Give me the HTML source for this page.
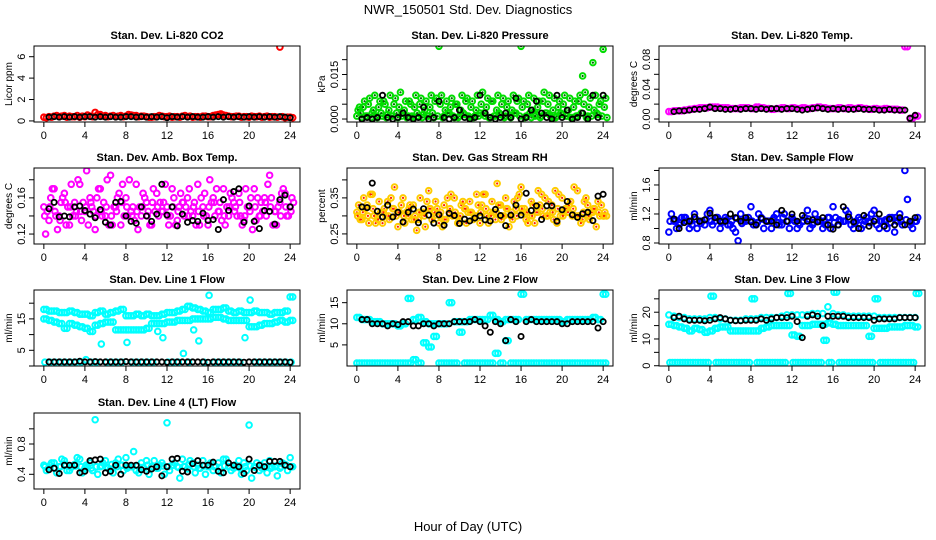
<!DOCTYPE html>
<html><head><meta charset="utf-8">
<style>
html,body{margin:0;padding:0;background:#fff;}
svg{display:block;font-family:"Liberation Sans",Arial,sans-serif;}
</style></head>
<body>
<svg id="chart" width="936" height="540" viewBox="0 0 936 540" xmlns="http://www.w3.org/2000/svg">
<rect width="936" height="540" fill="#fff"/>
<text x="468" y="14" font-size="13" text-anchor="middle">NWR_150501  Std. Dev. Diagnostics</text>
<text x="468" y="531" font-size="13" text-anchor="middle">Hour of Day (UTC)</text>
</svg>
<script>
const xTicks = [0,4,8,12,16,20,24];
const co2Red = [0.35,0.4,0.45,0.4,0.5,0.45,0.4,0.35,0.4,0.45,0.8,0.6,0.5,0.45,0.4,0.5,0.45,0.55,0.5,0.45,0.4,0.35,0.4,0.45,0.4,0.35,0.4,0.45,0.4,0.35,0.4,0.45,0.4,0.5,0.6,0.55,0.45,0.4,0.45,0.4,0.35,0.4,0.45,0.4,0.35,0.4,6.9,0.3,0.35];
const co2Red2 = [0.3,0.35,0.5,0.45,0.35,0.4,0.5,0.45,0.55,0.4,0.6,0.45,0.4,0.5,0.45,0.4,0.6,0.5,0.4,0.45,0.35,0.4,0.5,0.4,0.45,0.4,0.35,0.5,0.45,0.4,0.35,0.45,0.4,0.55,0.65,0.5,0.4,0.45,0.35,0.4,0.45,0.4,0.35,0.45,0.4,0.35,0.4,0.35,0.3];
const co2Black = [0.35,0.4,0.35,0.4,0.35,0.4,0.35,0.4,0.4,0.35,0.4,0.35,0.4,0.35,0.35,0.4,0.4,0.35,0.4,0.35,0.4,0.35,0.4,0.3,0.4,0.35,0.4,0.35,0.4,0.35,0.35,0.4,0.35,0.4,0.35,0.4,0.35,0.4,0.35,0.4,0.35,0.4,0.35,0.4,0.35,0.4,0.35,0.3];
const presLow = [0.001,0.0005,0.001,0.002,0.0005,0.001,0.0015,0.001,0.0005,0.002,0.001,0.0005,0.001,0.0015,0.001,0.0005,0.0245,0.001,0.002,0.0005,0.001,0.0015,0.0005,0.001,0.002,0.001,0.0005,0.001,0.0015,0.001,0.0005,0.002,0.0245,0.001,0.0005,0.0015,0.001,0.002,0.0005,0.001,0.0015,0.001,0.0005,0.001,0.0145,0.001,0.019,0.0015,0.0235];
const presHigh = [0.004,0.006,0.007,0.008,0.006,0.005,0.008,0.007,0.009,0.006,0.005,0.008,0.007,0.006,0.008,0.007,0.008,0.006,0.007,0.005,0.008,0.007,0.006,0.008,0.009,0.007,0.006,0.008,0.007,0.006,0.008,0.007,0.006,0.008,0.007,0.006,0.009,0.008,0.007,0.006,0.008,0.007,0.006,0.008,0.009,0.007,0.008,0.006,0.007];
const presMid = [0.003,0.004,0.005,0.003,0.004,0.006,0.003,0.005,0.004,0.003,0.006,0.004,0.005,0.003,0.004,0.006,0.005,0.003,0.004,0.005,0.003,0.006,0.004,0.003,0.005,0.004,0.006,0.003,0.005,0.004,0.003,0.006,0.004,0.005,0.003,0.004,0.006,0.005,0.003,0.004,0.005,0.003,0.004,0.006,0.005,0.004,0.003,0.005,0.004];
const presLow2 = [0.002,0.001,0.0005,0.001,0.002,0.0005,0.001,0.002,0.001,0.0005,0.001,0.002,0.0005,0.001,0.002,0.001,0.0005,0.002,0.001,0.0005,0.002,0.001,0.0005,0.001,0.002,0.0005,0.001,0.002,0.0005,0.001,0.002,0.001,0.0005,0.002,0.001,0.0005,0.002,0.001,0.0005,0.002,0.001,0.0005,0.001,0.002,0.0005,0.001,0.002,0.001,0.0005];
const presBlack = [0,0.0005,0,0.0005,0.008,0.0005,0,0.0005,0.002,0.0005,0,0.0005,0.004,0,0.0005,0.006,0.0005,0,0.0005,0.003,0.0005,0,0.0005,0.008,0.002,0.0005,0,0.0005,0.002,0.0005,0.007,0,0.0005,0.003,0.006,0.002,0.0005,0,0.008,0.0005,0.003,0,0.0005,0.002,0,0.008,0.0005,0.008];
const tempMag = [0.01,0.011,0.011,0.012,0.013,0.014,0.015,0.015,0.016,0.016,0.015,0.015,0.014,0.014,0.015,0.015,0.014,0.016,0.015,0.014,0.013,0.014,0.015,0.014,0.015,0.014,0.015,0.014,0.015,0.016,0.015,0.014,0.014,0.015,0.014,0.015,0.014,0.015,0.014,0.013,0.014,0.013,0.014,0.013,0.013,0.012,0.097,0.001,0.004];
const tempBlack = [0.01,0.011,0.011,0.012,0.013,0.013,0.014,0.016,0.014,0.014,0.013,0.013,0.014,0.013,0.014,0.014,0.013,0.014,0.013,0.014,0.014,0.013,0.014,0.014,0.013,0.012,0.013,0.014,0.015,0.014,0.013,0.014,0.013,0.014,0.013,0.013,0.014,0.013,0.013,0.013,0.012,0.012,0.013,0.012,0.012,0.012,0.001,0.005];
const ambA = [0.15,0.135,0.17,0.14,0.165,0.13,0.155,0.175,0.145,0.16,0.125,0.17,0.14,0.185,0.15,0.13,0.16,0.145,0.175,0.14,0.155,0.13,0.165,0.145,0.15,0.17,0.135,0.155,0.16,0.14,0.175,0.15,0.13,0.16,0.145,0.17,0.14,0.155,0.165,0.135,0.15,0.17,0.14,0.16,0.185,0.145,0.155,0.165,0.15];
const ambB = [0.12,0.16,0.14,0.155,0.13,0.175,0.145,0.135,0.19,0.15,0.16,0.14,0.18,0.13,0.16,0.175,0.14,0.15,0.125,0.165,0.145,0.17,0.14,0.155,0.13,0.16,0.15,0.14,0.17,0.155,0.13,0.165,0.18,0.14,0.155,0.13,0.165,0.15,0.14,0.17,0.16,0.135,0.155,0.14,0.16,0.13,0.165,0.14,0.16];
const ambC = [0.145,0.17,0.125,0.16,0.15,0.14,0.18,0.155,0.13,0.145,0.17,0.155,0.13,0.15,0.165,0.14,0.18,0.135,0.15,0.16,0.13,0.145,0.155,0.175,0.14,0.13,0.165,0.15,0.145,0.13,0.16,0.14,0.155,0.17,0.135,0.15,0.16,0.14,0.13,0.15,0.125,0.16,0.145,0.175,0.13,0.15,0.17,0.14,0.155];
const ambD = [0.14,0.15,0.145,0.135,0.155,0.15,0.14,0.145,0.15,0.155,0.14,0.145,0.15,0.14,0.145,0.155,0.15,0.14,0.145,0.15,0.14,0.155,0.15,0.145,0.14,0.15,0.145,0.155,0.14,0.15,0.145,0.14,0.15,0.155,0.145,0.14,0.15,0.145,0.155,0.14,0.145,0.15,0.14,0.155,0.15,0.145,0.14,0.15,0.145];
const ambBlack = [0.148,0.155,0.139,0.14,0.139,0.15,0.151,0.146,0.142,0.138,0.147,0.133,0.13,0.155,0.156,0.14,0.134,0.132,0.15,0.14,0.134,0.142,0.175,0.141,0.15,0.129,0.142,0.133,0.135,0.134,0.143,0.135,0.136,0.125,0.158,0.146,0.167,0.17,0.133,0.151,0.134,0.126,0.146,0.145,0.131,0.158,0.163,0.15];
const rhA = [0.31,0.29,0.33,0.36,0.3,0.28,0.34,0.32,0.27,0.35,0.3,0.33,0.29,0.31,0.37,0.3,0.28,0.33,0.31,0.35,0.29,0.32,0.34,0.3,0.28,0.36,0.31,0.29,0.33,0.35,0.3,0.32,0.38,0.29,0.34,0.31,0.36,0.3,0.33,0.28,0.35,0.32,0.3,0.37,0.29,0.33,0.31,0.34,0.3];
const rhB = [0.33,0.35,0.28,0.3,0.34,0.32,0.29,0.38,0.31,0.28,0.33,0.3,0.35,0.27,0.32,0.34,0.31,0.29,0.36,0.3,0.33,0.28,0.31,0.36,0.33,0.3,0.34,0.39,0.3,0.32,0.29,0.35,0.31,0.28,0.33,0.37,0.3,0.34,0.29,0.36,0.31,0.33,0.38,0.3,0.34,0.29,0.32,0.3,0.31];
const rhC = [0.29,0.32,0.36,0.28,0.31,0.3,0.35,0.3,0.33,0.31,0.29,0.26,0.31,0.34,0.29,0.32,0.27,0.35,0.3,0.28,0.34,0.31,0.29,0.33,0.36,0.28,0.31,0.33,0.3,0.27,0.34,0.36,0.32,0.3,0.28,0.33,0.35,0.31,0.37,0.3,0.32,0.34,0.3,0.28,0.35,0.31,0.27,0.33,0.3];
const rhD = [0.3,0.31,0.3,0.32,0.29,0.31,0.3,0.32,0.31,0.3,0.32,0.29,0.31,0.3,0.32,0.31,0.3,0.29,0.32,0.31,0.3,0.32,0.31,0.3,0.31,0.32,0.3,0.31,0.29,0.32,0.31,0.3,0.32,0.31,0.3,0.31,0.32,0.3,0.31,0.32,0.3,0.31,0.32,0.3,0.31,0.3,0.32,0.31,0.3];
const rhBlack = [0.325,0.323,0.391,0.313,0.297,0.33,0.297,0.31,0.283,0.31,0.319,0.281,0.32,0.302,0.28,0.303,0.274,0.307,0.301,0.279,0.291,0.286,0.294,0.3,0.289,0.286,0.318,0.301,0.273,0.302,0.33,0.302,0.363,0.315,0.328,0.29,0.328,0.328,0.285,0.317,0.34,0.303,0.296,0.306,0.31,0.287,0.355,0.36];
const sfA = [0.95,1.1,1.05,1.15,1.0,1.2,1.1,1.05,1.25,1.1,1.0,1.15,1.05,0.95,1.2,1.1,1.3,1.05,1.15,1.1,1.0,1.2,1.05,1.1,1.15,1.0,1.1,1.25,1.05,1.1,1.0,1.15,1.3,1.05,1.1,1.2,1.0,1.15,1.05,1.1,1.25,1.0,1.1,1.15,0.95,1.2,1.8,1.05,1.1];
const sfB = [1.2,1.0,1.15,1.1,1.05,1.0,1.1,1.2,1.05,1.15,1.1,1.05,1.0,0.83,1.1,1.15,1.05,1.2,1.0,1.1,1.15,1.05,1.2,1.0,1.1,1.05,1.15,1.0,1.2,1.1,1.05,1.0,1.15,1.1,1.25,1.05,1.1,1.0,1.15,1.2,1.05,1.1,1.0,1.15,1.1,1.05,1.4,1.0,1.15];
const sfC = [1.1,1.12,1.08,1.15,1.1,1.13,1.07,1.12,1.1,1.15,1.08,1.12,1.1,1.14,1.07,1.12,1.1,1.08,1.13,1.1,1.12,1.08,1.15,1.1,1.12,1.07,1.1,1.13,1.08,1.12,1.1,1.15,1.08,1.12,1.1,1.13,1.07,1.12,1.1,1.08,1.13,1.1,1.12,1.08,1.15,1.1,1.12,1.08,1.1];
const sfBlack = [1.13,1.0,1.08,1.1,1.16,1.1,1.12,1.21,1.15,1.1,1.1,1.2,1.15,1.1,1.15,1.09,1.05,1.14,1.1,1.1,1.05,1.25,1.1,1.2,1.1,1.18,1.1,1.12,1.09,1.15,1.05,0.99,1.05,1.3,1.16,1.09,1.0,1.18,1.03,1.1,1.2,1.03,1.13,1.05,1.15,1.05,1.1,1.15];
const l1Top = [18,17.5,17.5,17,17,17.5,17,16.5,16.5,16,17,17.5,16.5,17,17.5,18,16,16,16.5,16,16.5,16,16,16.5,17,17,17.5,18,19,18.5,18,17.5,17,18,18,18.5,17.5,17,17.5,17,17,17.5,17,17,16.5,17,17,17.5,22];
const l1Mid = [15,14.5,14,13.5,12,13.5,13,12.5,12,11,13,13.5,14,14,11.5,11.5,11.5,11.5,11.5,11.5,12,13.5,13.5,13.5,14,14,14.5,14.5,14.5,15,15,15,15,15.5,15.5,15,14.5,14.5,14.5,14.5,12.5,12.5,13,13.5,13.5,14,14.5,14,14.5];
const l1Low = [1.2,1.2,1.2,1.2,1.2,1.2,1.2,1.2,2,1.2,1.2,7,1.2,1.2,1.2,1.2,7.5,1.2,1.2,1.2,1.2,1.2,11,9,1.2,1.2,1.2,4,1.2,11.5,8,1.2,22.5,1.2,1.2,1.2,1.2,1.2,1.2,9,21,1.2,1.2,1.2,1.2,1.2,1.2,1.2,1.2];
const l1Black = [1.3,1.3,1.3,1.3,1.3,1.3,1.5,1.3,1.3,1.4,1.3,1.3,1.3,1.3,1.3,1.4,1.3,1.3,1.3,1.3,1.3,1.3,1.3,1.2,1.3,1.3,1.3,1.3,1.3,1.3,1.3,1.2,1.3,1.3,1.3,1.3,1.3,1.3,1.2,1.3,1.3,1.3,1.3,1.3,1.3,1.3,1.3,1.2];
const l2Top = [11.5,11,11,10.5,10.5,10,10,10,9.5,10,16,11,11.5,10.5,10,10,10,10,15,10.5,10.5,10.5,11,11,11,11,12,11,10.5,11,11,11,17,11,11,11,11,11,11,11,10.5,11,11,11,11,11,11.5,11,17];
const l2Low = [0.7,0.7,0.7,0.7,0.7,0.7,0.7,0.7,0.7,0.7,0.7,1.5,0.7,5.5,4.5,7,0.7,0.7,0.7,0.7,8,0.7,0.7,0.7,0.7,0.7,0.7,3,0.7,6,0.7,0.7,0.7,0.7,0.7,0.7,0.7,0.7,0.7,0.7,0.7,0.7,0.7,0.7,0.7,0.7,0.7,0.7,0.7];
const l2Black = [11,11,10,10,10,9.5,10,9.8,10.5,10.5,9.5,9.5,10,10,9.5,10,10,10,10.5,10.5,10.5,10.5,11,10.5,9.5,8,10.5,10,6,11,10.5,7,10.5,11,10.5,10.5,10.5,10.5,10.5,10,10,10.5,10.5,10.5,10.5,10.5,9,10.5];
const l3Top = [19,18.5,18,18,17.5,17.5,17.5,17.5,18,18,17.5,17.5,17,17,17,17.5,17.5,17.5,18,18,18,18,18.5,19,19,19,19,19,19.5,19.5,19.5,22,19.5,19,19,18.5,18.5,18.5,18.5,18.5,18.5,18,18,18,18,18,18,18,18];
const l3Mid = [15.5,15,14.5,14,13,14,13.5,12.5,13,14,14.5,14.5,13,13,13,13,13,13,14,14.5,15,15,15,15,11.5,11,15,15,15.5,15.5,15.5,16,15.5,15,15,15,15,15,15,11,14,14,14,14.5,14.5,14.5,15,15,14.5];
const l3Low = [1.2,1.2,1.2,1.2,1.2,1.2,1.2,1.2,26,1.2,1.2,1.2,1.2,1.2,1.2,1.2,25,1.2,1.2,1.2,1.2,1.2,1.2,27,1.2,1.2,1.2,1.2,1.2,1.2,9.5,1.2,27.5,1.2,1.2,1.2,1.2,1.2,1.2,1.2,25,1.2,1.2,1.2,1.2,1.2,1.2,1.2,27];
const l3Black = [18,18.5,17.5,17,17,17,16.8,17,17.5,18,17.5,17,16.8,16.8,17,17,17,17.5,17,17.5,18,18,18,18.5,16.5,10.5,18.5,19,18.5,15,18.5,18.5,18.5,18.5,18,18,18,18,18,17,17.5,17.5,17.5,17.5,18,18,18,18];
const l4A = [0.52,0.48,0.55,0.5,0.58,0.45,0.53,0.6,0.48,0.55,1.12,0.5,0.58,0.47,0.55,0.52,0.62,0.5,0.45,0.55,0.58,0.5,0.48,0.55,1.08,0.52,0.5,0.6,0.47,0.55,0.52,0.58,0.5,0.45,0.55,0.6,0.5,0.48,0.58,0.55,1.05,0.5,0.45,0.55,0.58,0.5,0.48,0.53,0.62];
const l4B = [0.45,0.55,0.42,0.6,0.45,0.5,0.62,0.42,0.5,0.45,0.4,0.55,0.48,0.42,0.6,0.45,0.5,0.7,0.42,0.48,0.4,0.58,0.52,0.4,0.45,0.55,0.35,0.5,0.58,0.42,0.48,0.4,0.55,0.5,0.42,0.6,0.45,0.5,0.4,0.45,0.35,0.55,0.48,0.42,0.5,0.38,0.55,0.45,0.5];
const l4C = [0.5,0.52,0.48,0.5,0.53,0.49,0.51,0.5,0.52,0.48,0.5,0.51,0.49,0.53,0.5,0.52,0.48,0.5,0.51,0.49,0.52,0.5,0.48,0.51,0.5,0.52,0.49,0.5,0.53,0.5,0.48,0.51,0.52,0.5,0.49,0.51,0.5,0.52,0.48,0.5,0.51,0.49,0.52,0.5,0.48,0.51,0.5,0.52,0.5];
const l4Black = [0.46,0.48,0.41,0.52,0.52,0.52,0.42,0.44,0.58,0.59,0.6,0.42,0.44,0.52,0.4,0.52,0.52,0.52,0.46,0.44,0.47,0.5,0.38,0.5,0.6,0.61,0.44,0.43,0.54,0.58,0.52,0.52,0.56,0.44,0.42,0.55,0.52,0.5,0.41,0.6,0.45,0.52,0.5,0.57,0.57,0.57,0.52,0.5];

const svg = document.getElementById('chart');
const NS = 'http://www.w3.org/2000/svg';
function el(tag, attrs, parent){ const e=document.createElementNS(NS,tag); for(const k in attrs) e.setAttribute(k,attrs[k]); (parent||svg).appendChild(e); return e; }

const colX=[34,347,659], rowY=[46,168,290,413], PW=266, PH=76;
const panels = [
 {id:'co2',title:'Stan. Dev. Li-820 CO2',ylab:'Licor ppm',col:0,row:0,ymin:-0.1,ymax:7.0,ticks:[0,2,4,6],labels:['0','2','4','6'],
  series:[{v:co2Red,c:'#ff0000',o:0},{v:co2Red2,c:'#ff0000',o:0.25}],black:co2Black},
 {id:'pressure',title:'Stan. Dev. Li-820 Pressure',ylab:'kPa',col:1,row:0,ymin:-0.001,ymax:0.0246,ticks:[0,0.005,0.01,0.015,0.02],labels:['0.000','','','0.015',''],
  series:[{v:presLow,c:'#00dd00',o:0,d:'#006600'},{v:presHigh,c:'#00dd00',o:0.25,d:'#006600'},{v:presMid,c:'#00dd00',o:0.12,d:'#006600'},{v:presLow2,c:'#00dd00',o:0.37,d:'#006600'}],black:presBlack},
 {id:'li-temp',title:'Stan. Dev. Li-820 Temp.',ylab:'degrees C',col:2,row:0,ymin:-0.004,ymax:0.098,ticks:[0,0.02,0.04,0.06,0.08],labels:['0.00','','0.04','','0.08'],
  series:[{v:tempMag,c:'#ff00ff',o:0},{v:tempMag,c:'#ff00ff',o:0.25}],black:tempBlack},
 {id:'amb-box',title:'Stan. Dev. Amb. Box Temp.',ylab:'degrees C',col:0,row:1,ymin:0.109,ymax:0.193,ticks:[0.12,0.14,0.16,0.18],labels:['0.12','','0.16',''],
  series:[{v:ambA,c:'#ff00ff',o:0},{v:ambB,c:'#ff00ff',o:0.17},{v:ambC,c:'#ff00ff',o:0.33},{v:ambD,c:'#ff00ff',o:0.08}],black:ambBlack},
 {id:'rh',title:'Stan. Dev. Gas Stream RH',ylab:'percent',col:1,row:1,ymin:0.222,ymax:0.433,ticks:[0.25,0.3,0.35,0.4],labels:['0.25','','0.35',''],
  series:[{v:rhA,c:'#ffcc00',o:0,d:'#ff2000'},{v:rhB,c:'#ffcc00',o:0.17,d:'#ff2000'},{v:rhC,c:'#ffcc00',o:0.33,d:'#ff2000'},{v:rhD,c:'#ffcc00',o:0.08,d:'#ff2000'}],black:rhBlack},
 {id:'sample-flow',title:'Stan. Dev. Sample Flow',ylab:'ml/min',col:2,row:1,ymin:0.786,ymax:1.834,ticks:[0.8,1.0,1.2,1.4,1.6,1.8],labels:['0.8','','1.2','','1.6',''],
  series:[{v:sfA,c:'#0000ff',o:0},{v:sfB,c:'#0000ff',o:0.25},{v:sfC,c:'#0000ff',o:0.12}],black:sfBlack},
 {id:'line1',title:'Stan. Dev. Line 1 Flow',ylab:'ml/min',col:0,row:2,ymin:0,ymax:24.2,ticks:[0,5,10,15,20],labels:['','5','','15',''],
  series:[{v:l1Top,c:'#00ffff',o:0},{v:l1Top,c:'#00ffff',o:0.25},{v:l1Mid,c:'#00ffff',o:0.25},{v:l1Mid,c:'#00ffff',o:0},{v:l1Low,c:'#00ffff',o:0.1}],black:l1Black},
 {id:'line2',title:'Stan. Dev. Line 2 Flow',ylab:'ml/min',col:1,row:2,ymin:0,ymax:18,ticks:[5,10,15],labels:['5','10','15'],
  series:[{v:l2Top,c:'#00ffff',o:0},{v:l2Top,c:'#00ffff',o:0.25},{v:l2Low,c:'#00ffff',o:0.25},{v:l2Low,c:'#00ffff',o:0}],black:l2Black},
 {id:'line3',title:'Stan. Dev. Line 3 Flow',ylab:'ml/min',col:2,row:2,ymin:-0.1,ymax:28.3,ticks:[0,5,10,15,20,25],labels:['0','','10','','20',''],
  series:[{v:l3Top,c:'#00ffff',o:0},{v:l3Mid,c:'#00ffff',o:0.25},{v:l3Mid,c:'#00ffff',o:0},{v:l3Low,c:'#00ffff',o:0.1},{v:l3Low,c:'#00ffff',o:0.35}],black:l3Black},
 {id:'line4',title:'Stan. Dev. Line 4 (LT) Flow',ylab:'ml/min',col:0,row:3,ymin:0.206,ymax:1.209,ticks:[0.4,0.6,0.8,1.0],labels:['0.4','','0.8',''],
  series:[{v:l4A,c:'#00ffff',o:0},{v:l4B,c:'#00ffff',o:0.25},{v:l4C,c:'#00ffff',o:0.12}],black:l4Black}
];

panels.forEach(p=>{
  const L=colX[p.col], T=rowY[p.row], B=T+PH;
  const xs = h => L + (h+0.96)/25.92*PW;
  const ys = v => B - (v-p.ymin)/(p.ymax-p.ymin)*PH;
  const g = el('g',{});
  
  
  const t = el('text',{x:L+PW/2,y:T-7,'font-size':11,'font-weight':'bold','text-anchor':'middle'},g);
  t.textContent = p.title;
  
  
  const clip = el('clipPath',{id:'clip-'+p.id},g);
  el('rect',{x:L,y:T,width:PW,height:PH},clip);
  const pts = el('g',{'clip-path':'url(#clip-'+p.id+')'},g);
  p.series.forEach((s,si)=>{
    s.v.forEach((v,i)=>{
      const c = el('circle',{cx:xs(i*0.5+s.o),cy:ys(v),r:2.8,fill:'none',stroke:s.c,'stroke-width':2},pts);
      
      
      if(s.d) el('circle',{cx:xs(i*0.5+s.o),cy:ys(v),r:1.1,fill:s.d},pts);
    });
  });
  p.black.forEach((v,i)=>{
    const c = el('circle',{cx:xs(0.5+i*0.5),cy:ys(v),r:2.6,fill:'none',stroke:'#000','stroke-width':1.8},pts);
    
    
  });
  el('rect',{x:L,y:T,width:PW,height:PH,fill:'none',stroke:'#000','stroke-width':1},g);
  el('line',{x1:xs(0),x2:xs(24),y1:B,y2:B,stroke:'#000'},g);
  xTicks.forEach(h=>{
    el('line',{x1:xs(h),x2:xs(h),y1:B,y2:B+5,stroke:'#000'},g);
    const tl = el('text',{x:xs(h),y:B+17,'font-size':11,'text-anchor':'middle'},g);
    tl.textContent = h;
    
    
  });
  const y0=ys(p.ticks[0]), y1=ys(p.ticks[p.ticks.length-1]);
  el('line',{x1:L,x2:L,y1:y0,y2:y1,stroke:'#000'},g);
  p.ticks.forEach((v,i)=>{
    const yy=ys(v);
    el('line',{x1:L-5,x2:L,y1:yy,y2:yy,stroke:'#000'},g);
    if(p.labels[i]){
      const yl = el('text',{x:L-9,y:yy,'font-size':11,'text-anchor':'middle',transform:'rotate(-90 '+(L-9)+' '+yy+')'},g);
      yl.textContent = p.labels[i];
      
      
    }
  });
  const ya = el('text',{x:L-22,y:T+PH/2,'font-size':10,'text-anchor':'middle',transform:'rotate(-90 '+(L-22)+' '+(T+PH/2)+')'},g);
  ya.textContent = p.ylab;
  
  
});
</script>
</body></html>
